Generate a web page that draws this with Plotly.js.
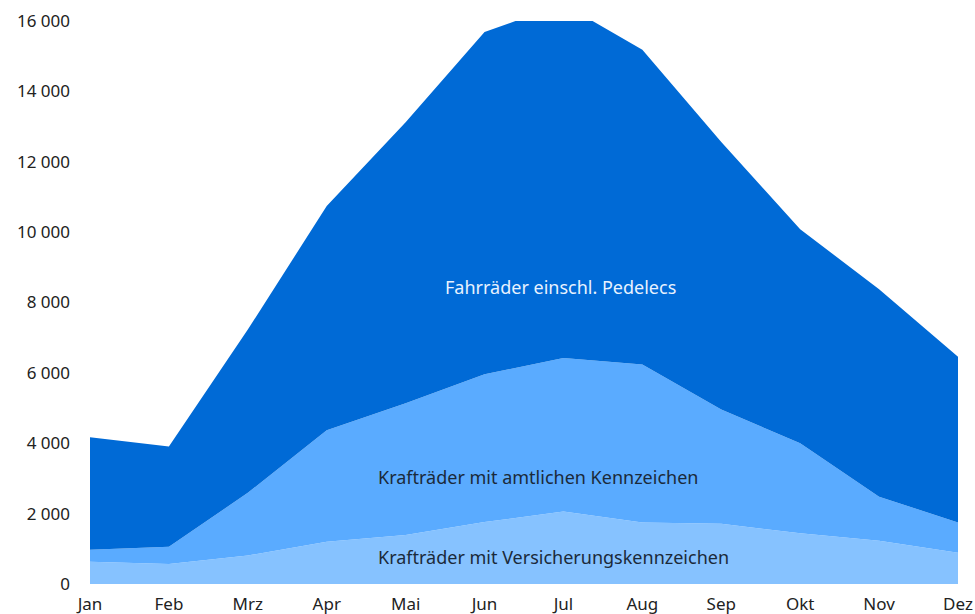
<!DOCTYPE html>
<html>
<head>
<meta charset="utf-8">
<script src="https://cdn.plot.ly/plotly-3.0.1.min.js"></script>
<style>html,body{margin:0;padding:0;background:#fff;}#chart{width:975px;height:614px;}</style>
</head>
<body>
<div id="chart"></div>
<script>
const months = ["Jan","Feb","Mrz","Apr","Mai","Jun","Jul","Aug","Sep","Okt","Nov","Dez"];
const versicherung = [630,570,810,1200,1390,1760,2060,1750,1710,1440,1230,890];
const amtlich = [340,490,1780,3170,3750,4200,4360,4490,3250,2560,1250,860];
const fahrraeder = [3200,2850,4640,6370,7980,9730,10060,8940,7600,6080,5900,4710];
const seriesNames = ["Krafträder mit Versicherungskennzeichen","Krafträder mit amtlichen Kennzeichen","Fahrräder einschl. Pedelecs"];
const yTicks = [0,2000,4000,6000,8000,10000,12000,14000,16000];

const FONT = "'Noto Sans', 'Open Sans', sans-serif";
function area(y, name, color){
  return {x: months, y: y, name: name, type: "scatter", mode: "lines", stackgroup: "one",
    line: {width: 0, color: color}, fillcolor: color, hoverinfo: "skip"};
}
const data = [
  area(versicherung, seriesNames[0], "#86C2FF"),
  area(amtlich, seriesNames[1], "#5AABFF"),
  area(fahrraeder, seriesNames[2], "#006AD6")
];
const layout = {
  width: 975, height: 614,
  margin: {l: 90, r: 17, t: 21, b: 30},
  paper_bgcolor: "#fff", plot_bgcolor: "#fff",
  showlegend: false,
  separators: ", ",
  font: {family: FONT, size: 17, color: "#222"},
  xaxis: {type: "category", range: [0, 11], showgrid: false, zeroline: false, showline: false,
    ticks: "", tickfont: {size: 17, color: "#222"}, ticklabelstandoff: 8, fixedrange: true},
  yaxis: {range: [0, 16000], tickvals: yTicks, separatethousands: true, tickformat: ",d",
    showgrid: false, zeroline: false, showline: false, ticks: "",
    tickfont: {size: 17, color: "#222"}, ticklabelstandoff: 19, fixedrange: true},
  annotations: [
    {x: 5.96, y: 8430, xref: "x", yref: "y", text: seriesNames[2], showarrow: false,
      font: {size: 18, color: "#E8F2FF"}, xanchor: "center", yanchor: "middle"},
    {x: 3.62, y: 3050, xref: "x", yref: "y", text: seriesNames[1], showarrow: false,
      font: {size: 18, color: "#1B2A3A"}, xanchor: "left", yanchor: "middle"},
    {x: 3.62, y: 770, xref: "x", yref: "y", text: seriesNames[0], showarrow: false,
      font: {size: 18, color: "#1B2A3A"}, xanchor: "left", yanchor: "middle"}
  ]
};
Plotly.newPlot("chart", data, layout, {displayModeBar: false, staticPlot: true});
</script>
</body>
</html>
